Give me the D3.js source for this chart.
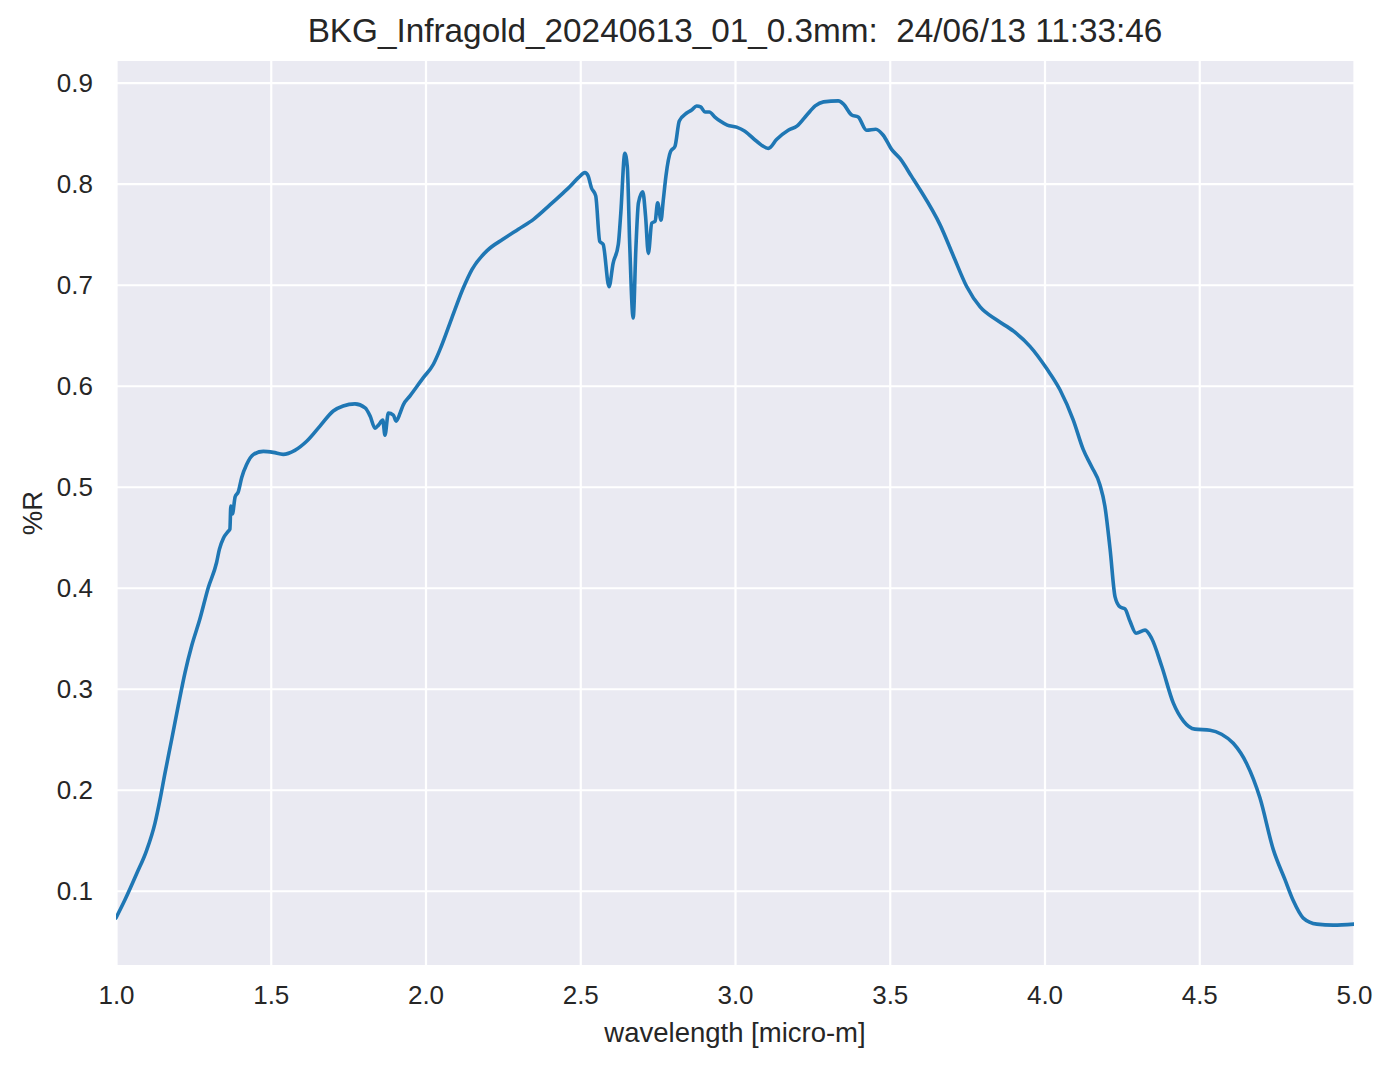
<!DOCTYPE html>
<html>
<head>
<meta charset="utf-8">
<script src="https://cdn.jsdelivr.net/npm/d3@7"></script>
<style>
  html, body { margin: 0; padding: 0; background: #ffffff; }
  svg { display: block; }
  text { font-family: "Liberation Sans", Arial, sans-serif; fill: #262626; }
</style>
</head>
<body>
<svg id="chart" width="1394" height="1069"></svg>
<script>
const titleText = "BKG_Infragold_20240613_01_0.3mm:  24/06/13 11:33:46";
const xLabel = "wavelength [micro-m]";
const yLabel = "%R";
const xTicks = [1.0, 1.5, 2.0, 2.5, 3.0, 3.5, 4.0, 4.5, 5.0];
const yTicks = [0.1, 0.2, 0.3, 0.4, 0.5, 0.6, 0.7, 0.8, 0.9];

const wavelength = [
  1.000, 1.029, 1.067, 1.099, 1.126, 1.142, 1.158, 1.180, 1.201, 1.223,
  1.245, 1.271, 1.298, 1.325, 1.334, 1.347, 1.363, 1.368, 1.371, 1.376,
  1.385, 1.395, 1.406, 1.422, 1.444, 1.476, 1.508, 1.540, 1.578, 1.616,
  1.659, 1.702, 1.734, 1.772, 1.805, 1.821, 1.837, 1.848, 1.862, 1.869,
  1.880, 1.896, 1.905, 1.918, 1.928, 1.950, 1.993, 2.025, 2.047, 2.085,
  2.121, 2.150, 2.200, 2.250, 2.300, 2.350, 2.402, 2.445, 2.466, 2.494,
  2.515, 2.525, 2.536, 2.550, 2.563, 2.574, 2.593, 2.606, 2.623, 2.631,
  2.644, 2.652, 2.660, 2.671, 2.680, 2.688, 2.702, 2.711, 2.720, 2.731,
  2.742, 2.750, 2.761, 2.768, 2.777, 2.792, 2.806, 2.820, 2.844, 2.860,
  2.876, 2.889, 2.903, 2.917, 2.935, 2.952, 2.975, 3.005, 3.032, 3.070,
  3.108, 3.135, 3.172, 3.200, 3.232, 3.259, 3.286, 3.334, 3.350, 3.377,
  3.398, 3.425, 3.455, 3.479, 3.506, 3.533, 3.571, 3.598, 3.663, 3.705,
  3.749, 3.792, 3.846, 3.900, 3.953, 4.007, 4.050, 4.093, 4.125, 4.152,
  4.179, 4.195, 4.212, 4.228, 4.244, 4.260, 4.276, 4.296, 4.325, 4.346,
  4.379, 4.416, 4.449, 4.486, 4.535, 4.572, 4.610, 4.653, 4.696, 4.739,
  4.777, 4.804, 4.836, 4.880, 4.933, 5.000
];
const reflectance = [
  0.073, 0.091, 0.117, 0.140, 0.167, 0.190, 0.216, 0.250, 0.283, 0.316,
  0.343, 0.369, 0.400, 0.425, 0.438, 0.449, 0.456, 0.458, 0.481, 0.473,
  0.490, 0.495, 0.509, 0.522, 0.532, 0.535, 0.534, 0.532, 0.536, 0.545,
  0.560, 0.575, 0.580, 0.582, 0.578, 0.570, 0.558, 0.561, 0.566, 0.551,
  0.573, 0.571, 0.565, 0.573, 0.581, 0.590, 0.608, 0.621, 0.636, 0.667,
  0.696, 0.715, 0.734, 0.745, 0.755, 0.765, 0.779, 0.791, 0.797, 0.806,
  0.811, 0.808, 0.796, 0.788, 0.743, 0.740, 0.698, 0.721, 0.740, 0.771,
  0.830, 0.817, 0.738, 0.667, 0.738, 0.781, 0.792, 0.768, 0.731, 0.761,
  0.763, 0.781, 0.764, 0.783, 0.808, 0.832, 0.837, 0.862, 0.870, 0.873,
  0.877, 0.876, 0.871, 0.871, 0.866, 0.862, 0.858, 0.856, 0.852, 0.842,
  0.835, 0.844, 0.853, 0.857, 0.868, 0.877, 0.881, 0.882, 0.879, 0.868,
  0.866, 0.853, 0.854, 0.848, 0.834, 0.825, 0.807, 0.794, 0.759, 0.729,
  0.698, 0.678, 0.665, 0.654, 0.639, 0.617, 0.596, 0.566, 0.537, 0.520,
  0.502, 0.481, 0.438, 0.391, 0.381, 0.379, 0.367, 0.355, 0.358, 0.350,
  0.322, 0.286, 0.268, 0.260, 0.259, 0.255, 0.246, 0.226, 0.192, 0.141,
  0.111, 0.090, 0.073, 0.067, 0.066, 0.067
];

const data = wavelength.map((w, i) => ({ x: w, y: reflectance[i] }));

const svg = d3.select("#chart");
const plot = { left: 116, top: 61, right: 1354, bottom: 965 };

const x = d3.scaleLinear().domain([1.0, 5.0]).range([plot.left, plot.right]);
const y = d3.scaleLinear().domain([0.0265, 0.9215]).range([plot.bottom, plot.top]);

// background
svg.append("rect")
  .attr("x", plot.left).attr("y", plot.top)
  .attr("width", plot.right - plot.left).attr("height", plot.bottom - plot.top)
  .attr("fill", "#eaeaf2");

// grid via axes
const gx = svg.append("g")
  .attr("transform", `translate(0,${plot.bottom})`)
  .call(d3.axisBottom(x).tickValues(xTicks).tickSize(-(plot.bottom - plot.top)).tickFormat(d3.format(".1f")).tickPadding(21));
const gy = svg.append("g")
  .attr("transform", `translate(${plot.left},0)`)
  .call(d3.axisLeft(y).tickValues(yTicks).tickSize(-(plot.right - plot.left)).tickFormat(d3.format(".1f")).tickPadding(23));

[gx, gy].forEach(g => {
  g.select(".domain").remove();
  g.selectAll(".tick line").attr("stroke", "#ffffff").attr("stroke-width", 2.2);
  g.selectAll(".tick text")
    .attr("fill", "#262626")
    .style("font-family", '"Liberation Sans", Arial, sans-serif')
    .style("font-size", "26px");
});
gx.selectAll(".tick text").attr("dy", "0.71em");

// clip
svg.append("clipPath").attr("id", "clip")
  .append("rect")
  .attr("x", plot.left).attr("y", plot.top)
  .attr("width", plot.right - plot.left).attr("height", plot.bottom - plot.top);

const line = d3.line()
  .x(d => x(d.x))
  .y(d => y(d.y))
  .curve(d3.curveMonotoneX);

svg.append("path")
  .datum(data)
  .attr("clip-path", "url(#clip)")
  .attr("fill", "none")
  .attr("stroke", "#1f77b4")
  .attr("stroke-width", 3.6)
  .attr("stroke-linejoin", "round")
  .attr("stroke-linecap", "round")
  .attr("d", line);

// title
svg.append("text")
  .attr("x", (plot.left + plot.right) / 2)
  .attr("y", 42)
  .attr("text-anchor", "middle")
  .style("font-size", "33.3px")
  .style("white-space", "pre")
  .attr("xml:space", "preserve")
  .text(titleText);

// x label
svg.append("text")
  .attr("x", (plot.left + plot.right) / 2)
  .attr("y", 1042)
  .attr("text-anchor", "middle")
  .style("font-size", "27.5px")
  .text(xLabel);

// y label
svg.append("text")
  .attr("transform", `translate(41.5,${(plot.top + plot.bottom) / 2}) rotate(-90)`)
  .attr("text-anchor", "middle")
  .style("font-size", "27.5px")
  .text(yLabel);
</script>
</body>
</html>
